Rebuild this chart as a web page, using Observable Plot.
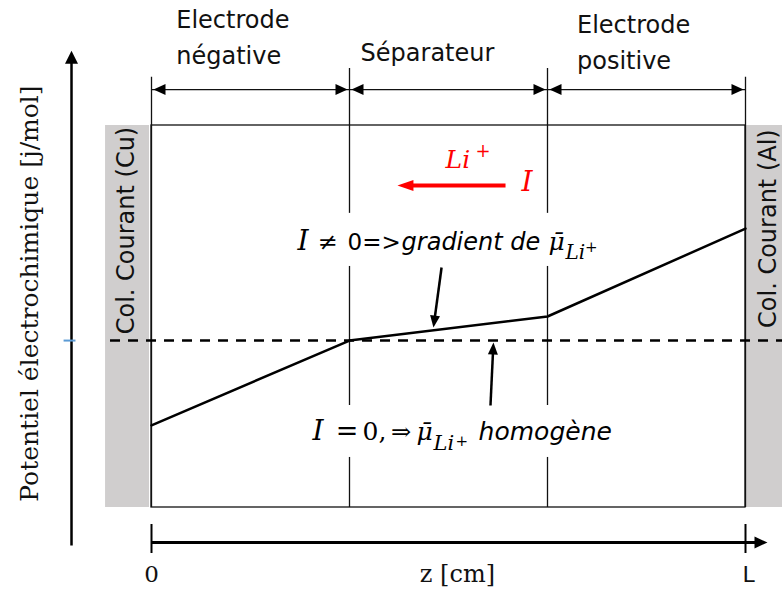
<!DOCTYPE html>
<html>
<head>
<meta charset="utf-8">
<script src="https://cdn.jsdelivr.net/npm/d3@7"></script>
<script src="https://cdn.jsdelivr.net/npm/@observablehq/plot@0.6"></script>
<style>
  html, body { margin: 0; padding: 0; background: #fff; }
</style>
</head>
<body>
<div id="chart"></div>
<script>
// ---------------- data ----------------
const regions = ["Electrode\nnégative", "Séparateur", "Electrode\npositive"];
const bounds = [0, 1, 2, 3];                 // region boundaries along z (0 … L)
const zProfile = [0, 1, 2, 3];
const muProfile = [2.15, 4.37, 5.0, 7.3];    // I ≠ 0 : gradient of μ̄Li+
const muEq = 4.37;                           // I = 0 : homogeneous μ̄Li+
const collectors = ["Col. Courant (Cu)", "Col. Courant (Al)"];
const zTicks = [0, 3];
const zTickLabels = ["0", "L"];
const xLabel = "z [cm]";
const yLabel = "Potentiel électrochimique [j/mol]";

// ---------------- layout helpers ----------------
const X_DOMAIN = [0, 3], X_RANGE = [151, 745];
const Y_DOMAIN = [0, 10], Y_RANGE = [507, 125];
const sx = d3.scaleLinear(X_DOMAIN, X_RANGE);
const sy = d3.scaleLinear(Y_DOMAIN, Y_RANGE);

const SANS = "DejaVu Sans";
const SERIF = "DejaVu Serif";

// filled triangular arrow head, tip at the anchor point
function head(angle, len, half) {
  const c = Math.cos(angle), s = Math.sin(angle);
  const pts = [[0, 0], [-len, -half], [-len, half]].map(([x, y]) => [x * c - y * s, x * s + y * c]);
  return {draw(ctx) { ctx.moveTo(...pts[0]); ctx.lineTo(...pts[1]); ctx.lineTo(...pts[2]); ctx.closePath(); }};
}

function arrowMarks(x1, y1, x2, y2, {len = 12, half = 5, stroke = "black", strokeWidth = 2.5} = {}) {
  const X1 = sx(x1), Y1 = sy(y1), X2 = sx(x2), Y2 = sy(y2);
  const a = Math.atan2(Y2 - Y1, X2 - X1);
  const ex = X2 - Math.cos(a) * len * 0.8, ey = Y2 - Math.sin(a) * len * 0.8;
  return [
    Plot.link([{x1, y1, x2: sx.invert(ex), y2: sy.invert(ey)}],
      {x1: "x1", y1: "y1", x2: "x2", y2: "y2", stroke, strokeWidth}),
    Plot.dot([{x: x2, y: y2}], {x: "x", y: "y", r: 5, symbol: head(a, len, half), fill: stroke, stroke: "none"})
  ];
}

function txt(s, x, y, o = {}) {
  return Plot.text([{x, y, s}], {x: "x", y: "y", text: "s", lineAnchor: "bottom", textAnchor: "start", fill: "black", ...o});
}

// derived tables
const regionTable = regions.map((name, i) => ({name, z1: bounds[i], z2: bounds[i + 1]}));
const boundTable = bounds.map((z, i) => ({z, top: (i === 0 || i === bounds.length - 1) ? 11.26 : 11.49}));
const profile = zProfile.map((z, i) => ({z, mu: muProfile[i]}));
const collectorTable = [
  {name: collectors[0], z1: -0.232, z2: -0.01, zl: -0.126, yl: 7.25},
  {name: collectors[1], z1: 3.005, z2: 3.3, zl: 3.116, yl: 7.3}
];
const tickTable = zTicks.map((z, i) => ({z, label: zTickLabels[i]}));
const DIM_Y = 10.94;
const labelPos = [
  {z: 0.125, y: 11.62},
  {z: 1.056, y: 11.70},
  {z: 2.149, y: 11.49}
];

const marks = [
  // current collectors
  Plot.rect(collectorTable, {x1: "z1", x2: "z2", y1: 0, y2: 10, fill: "#d0cece"}),
  Plot.text(collectorTable, {x: "zl", y: "yl", text: "name", rotate: -90, fontFamily: SANS, fontSize: 24, fill: "#111"}),
  // cell frame
  Plot.rect([{}], {x1: () => X_DOMAIN[0], x2: () => X_DOMAIN[1], y1: () => Y_DOMAIN[0], y2: () => Y_DOMAIN[1], fill: "none", stroke: "#111", strokeWidth: 1.3}),
  Plot.ruleX(boundTable, {x: "z", y1: () => 0, y2: "top", stroke: "#111", strokeWidth: 1.3}),
  // dimension double arrows
  Plot.link(regionTable, {x1: "z1", x2: "z2", y1: () => DIM_Y, y2: () => DIM_Y, stroke: "#111", strokeWidth: 1.3}),
  Plot.dot(regionTable, {x: "z1", y: () => DIM_Y, dx: 2, r: 5, symbol: head(Math.PI, 12, 5.5), fill: "black", stroke: "none"}),
  Plot.dot(regionTable, {x: "z2", y: () => DIM_Y, dx: -2, r: 5, symbol: head(0, 12, 5.5), fill: "black", stroke: "none"}),
  Plot.text(regionTable.map((d, i) => ({...d, ...labelPos[i]})), {x: "z", y: "y", text: "name", textAnchor: "start", lineAnchor: "bottom", lineHeight: 1.5, fontFamily: SANS, fontSize: 24, fill: "#111"}),
  // white backgrounds behind annotations
  Plot.rect([{x1: 0.70, x2: 2.30, y1: 6.31, y2: 7.70}, {x1: 0.778, x2: 2.369, y1: 1.31, y2: 2.67}], {x1: "x1", x2: "x2", y1: "y1", y2: "y2", fill: "white"}),
  // equilibrium level (I = 0)
  Plot.ruleY([muEq], {x1: () => -0.207, x2: () => 3.3, stroke: "black", strokeWidth: 2.5, strokeDasharray: "10,8"}),
  // profile (I ≠ 0)
  Plot.line(profile, {x: "z", y: "mu", stroke: "black", strokeWidth: 2.5}),
  // y axis (left, arrow up)
  ...arrowMarks(-0.404, -0.995, -0.404, 11.96, {len: 13, half: 6.5, strokeWidth: 2.5}),
  Plot.link([{y: muEq}], {x1: () => -0.444, x2: () => -0.384, y1: "y", y2: "y", stroke: "#5b9bd5", strokeWidth: 2}),
  Plot.text([yLabel], {x: () => -0.616, y: () => 5.6, text: d => d, rotate: -90, fontFamily: SERIF, fontSize: 25, fill: "#111"}),
  // z axis (bottom, arrow right)
  ...arrowMarks(0, -0.916, 3.111, -0.916, {len: 13, half: 6, strokeWidth: 3}),
  Plot.ruleX(tickTable, {x: "z", y1: () => -0.445, y2: () => -1.204, stroke: "black", strokeWidth: 2}),
  Plot.text(tickTable.slice(0, 1), {x: "z", y: () => -1.963, text: "label", lineAnchor: "bottom", fontFamily: SERIF, fontSize: 23, fill: "#111"}),
  Plot.text(tickTable.slice(1), {x: "z", y: () => -1.963, dx: 3, text: "label", lineAnchor: "bottom", fontFamily: SANS, fontSize: 22, fill: "#111"}),
  Plot.text([xLabel], {x: () => 1.545, y: () => -1.963, text: d => d, lineAnchor: "bottom", fontFamily: SERIF, fontSize: 24, fill: "#111"}),
  // Li+ flux / current (red)
  ...arrowMarks(1.788, 8.43, 1.242, 8.43, {len: 16, half: 5.5, stroke: "#ff0000", strokeWidth: 4}),
  txt("Li", 1.485, 8.90, {fontFamily: SERIF, fontStyle: "italic", fontSize: 25, fill: "#ff0000"}),
  txt("+", 1.636, 9.175, {fontFamily: SERIF, fontSize: 18, fill: "#ff0000"}),
  txt("I", 1.869, 8.298, {fontFamily: SERIF, fontStyle: "italic", fontSize: 28, fill: "#ff0000"}),
  // upper annotation: I ≠ 0 => gradient de μ̄Li+
  txt("I", 0.737, 6.728, {fontFamily: SERIF, fontStyle: "italic", fontSize: 28}),
  txt("≠", 0.838, 6.728, {fontFamily: SERIF, fontSize: 24}),
  txt("0=>", 0.990, 6.728, {fontFamily: SANS, fontSize: 23}),
  txt("gradient de", 1.263, 6.728, {fontFamily: SANS, fontStyle: "italic", fontSize: 24}),
  txt("μ\u0304", 2.005, 6.728, {fontFamily: SERIF, fontStyle: "italic", fontSize: 25}),
  txt("Li", 2.091, 6.518, {fontFamily: SERIF, fontStyle: "italic", fontSize: 20}),
  txt("+", 2.19, 6.70, {fontFamily: SERIF, fontSize: 15}),
  ...arrowMarks(1.465, 6.283, 1.424, 4.712, {len: 12, half: 5, strokeWidth: 2.5}),
  // lower annotation: I = 0,⇒ μ̄Li+ homogène
  txt("I", 0.813, 1.754, {fontFamily: SERIF, fontStyle: "italic", fontSize: 28}),
  txt("=", 0.93, 1.754, {fontFamily: SERIF, fontSize: 27}),
  txt("0,", 1.066, 1.754, {fontFamily: SERIF, fontSize: 25}),
  txt("⇒", 1.21, 1.754, {fontFamily: SERIF, fontSize: 24}),
  txt("μ\u0304", 1.338, 1.754, {fontFamily: SERIF, fontStyle: "italic", fontSize: 25}),
  txt("Li", 1.424, 1.518, {fontFamily: SERIF, fontStyle: "italic", fontSize: 21}),
  txt("+", 1.535, 1.623, {fontFamily: SERIF, fontSize: 15}),
  txt("homogène", 1.652, 1.754, {fontFamily: SANS, fontStyle: "italic", fontSize: 25}),
  ...arrowMarks(1.712, 2.67, 1.727, 4.32, {len: 12, half: 5, strokeWidth: 2.5})
];

const chart = Plot.plot({
  width: 782,
  height: 596,
  margin: 0,
  x: {domain: X_DOMAIN, range: X_RANGE, axis: null},
  y: {domain: Y_DOMAIN, range: Y_RANGE, axis: null},
  style: {background: "white", overflow: "hidden"},
  marks
});
document.getElementById("chart").appendChild(chart);
</script>
</body>
</html>
